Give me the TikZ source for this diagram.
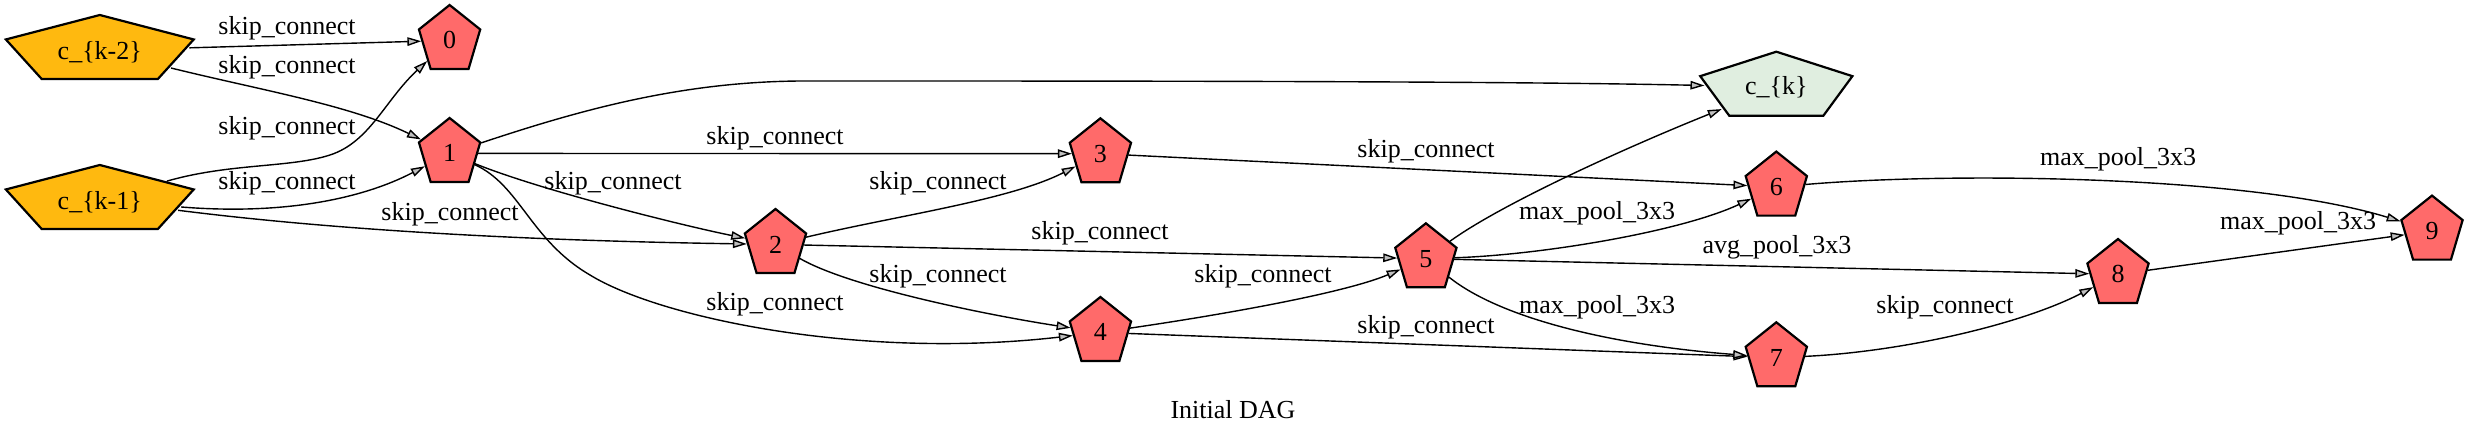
\documentclass[tikz,border=0pt]{standalone}
\usepackage{fontspec}
\setmainfont{Liberation Serif}
\usetikzlibrary{shapes.geometric,arrows.meta}
\definecolor{orangeN}{HTML}{FFB90F}
\definecolor{redN}{HTML}{FF6A6A}
\definecolor{greenN}{HTML}{E0EEE0}
\newcommand{\pentnode}[5]{\begin{scope}[shift={(#2,#3)}]\node[pent,fill=#5,xscale=#4,transform shape] (#1) at (0,0) {};\end{scope}}
\begin{document}
\begin{tikzpicture}[x=1pt,y=-1pt,
  font=\fontsize{26}{31}\selectfont,
  pent/.style={regular polygon, regular polygon sides=5, minimum size=70.8pt, inner sep=0pt, draw=black, line width=2.2pt},
  edge/.style={draw=black, line width=1.4pt, -{Triangle[length=14pt,width=8.5pt,fill=black!25]}},
  lbl/.style={inner sep=0pt, anchor=center}]
\useasboundingbox (0,0) rectangle (2468,438);
% nodes
\pentnode{ck2}{99.8}{50.4}{2.79}{orangeN}
\pentnode{ck1}{99.8}{200.4}{2.79}{orangeN}
\pentnode{n0}{449.6}{40.4}{0.91}{redN}
\pentnode{n1}{449.6}{153.4}{0.91}{redN}
\pentnode{n2}{775.5}{244.4}{0.91}{redN}
\pentnode{n3}{1100.4}{153.7}{0.91}{redN}
\pentnode{n4}{1100.4}{332.4}{0.91}{redN}
\pentnode{ck}{1776.3}{87.1}{2.26}{greenN}
\pentnode{n5}{1425.9}{258.7}{0.91}{redN}
\pentnode{n6}{1776.3}{187}{0.91}{redN}
\pentnode{n7}{1776.3}{357.7}{0.91}{redN}
\pentnode{n8}{2118}{274.4}{0.91}{redN}
\pentnode{n9}{2432}{231}{0.91}{redN}
\node[lbl] at ([yshift=-1.5pt]ck2.center) {c\_\{k-2\}};
\node[lbl] at ([yshift=-1.5pt]ck1.center) {c\_\{k-1\}};
\node[lbl] at (ck.center) {c\_\{k\}};
\node[lbl] at (n0.center) {0};
\node[lbl] at (n1.center) {1};
\node[lbl] at (n2.center) {2};
\node[lbl] at (n3.center) {3};
\node[lbl] at (n4.center) {4};
\node[lbl] at (n5.center) {5};
\node[lbl] at (n6.center) {6};
\node[lbl] at (n7.center) {7};
\node[lbl] at (n8.center) {8};
\node[lbl] at (n9.center) {9};
% edges
\draw[edge] (ck2) -- (n0);
\draw[edge] (ck2) .. controls (260,90) and (350,105) .. (n1);
\draw[edge] (ck1) .. controls (230,163) and (290,168) .. (330,155) .. controls (370,142) and (385,100) .. (n0);
\draw[edge] (ck1) .. controls (280,215) and (360,200) .. (n1);
\draw[edge] (ck1) .. controls (350,232) and (550,241) .. (n2);
\draw[edge] (n1) .. controls (540,190) and (680,225) .. (n2);
\draw[edge] (n1) -- (n3);
\draw[edge] (n1) .. controls (520,185) and (530,240) .. (590,275) .. controls (660,318) and (860,360) .. (n4);
\draw[edge] (n1) .. controls (580,110) and (680,82) .. (800,81) .. controls (1100,81) and (1500,81) .. (ck);
\draw[edge] (n2) .. controls (900,215) and (1010,200) .. (n3);
\draw[edge] (n2) .. controls (851,288) and (993,316) .. (n4);
\draw[edge] (n2) -- (n5);
\draw[edge] (n3) -- (n6);
\draw[edge] (n4) .. controls (1200,318) and (1340,295) .. (n5);
\draw[edge] (n4) -- (n7);
\draw[edge] (n5) .. controls (1500,205) and (1620,150) .. (ck);
\draw[edge] (n5) .. controls (1540,255) and (1680,232) .. (n6);
\draw[edge] (n5) -- (n8);
\draw[edge] (n5) .. controls (1500,318) and (1610,345) .. (n7);
\draw[edge] (n6) .. controls (1950,172) and (2250,175) .. (n9);
\draw[edge] (n7) .. controls (1900,352) and (2020,325) .. (n8);
\draw[edge] (n8) -- (n9);
% edge labels
\node[lbl] (l1) at (287,28) {skip\_connect};
\node[lbl] (l2) at (287,67) {skip\_connect};
\node[lbl] (l3) at (287,128) {skip\_connect};
\node[lbl] (l4) at (287,183) {skip\_connect};
\node[lbl] (l5) at (450,214) {skip\_connect};
\node[lbl] (l6) at (613,183) {skip\_connect};
\node[lbl] (l7) at (775,138) {skip\_connect};
\node[lbl] (l8) at (775,304) {skip\_connect};
\node[lbl] (l10) at (938,183) {skip\_connect};
\node[lbl] (l11) at (938,276) {skip\_connect};
\node[lbl] (l12) at (1100,233) {skip\_connect};
\node[lbl] (l13) at (1426,151) {skip\_connect};
\node[lbl] (l14) at (1263,276) {skip\_connect};
\node[lbl] (l15) at (1426,327) {skip\_connect};
\node[lbl] (l17) at (1597,213) {max\_pool\_3x3};
\node[lbl] (l18) at (1777,247) {avg\_pool\_3x3};
\node[lbl] (l19) at (1597,307) {max\_pool\_3x3};
\node[lbl] (l20) at (2118,159) {max\_pool\_3x3};
\node[lbl] (l21) at (1945,307) {skip\_connect};
\node[lbl] (l22) at (2298,223) {max\_pool\_3x3};
\node[lbl] (title) at (1233,410) {Initial DAG};
\end{tikzpicture}
\end{document}
